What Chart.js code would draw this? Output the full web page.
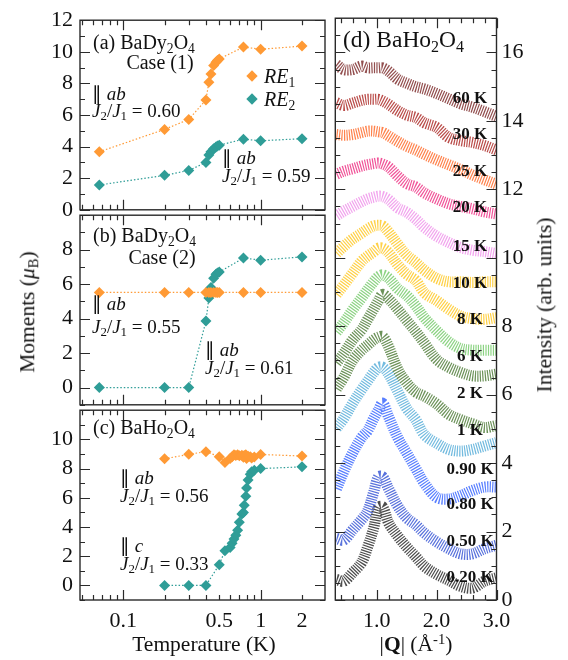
<!DOCTYPE html>
<html>
<head>
<meta charset="utf-8">
<script src="https://cdn.jsdelivr.net/npm/chart.js@4.4.0/dist/chart.umd.min.js"></script>
<style>
body{margin:0;background:#fff;width:568px;height:660px;position:relative;overflow:hidden;font-family:"Liberation Serif",serif;color:#111;}
canvas{position:absolute;}
.t{position:absolute;white-space:nowrap;line-height:1;font-size:19px;}
.t sub{font-size:0.68em;vertical-align:-0.3em;line-height:0;}
.t sup{font-size:0.68em;vertical-align:0.5em;line-height:0;}
.big{font-size:20px;}
.ttl{font-size:21.5px;}
.hd{font-size:23.5px;}
.lab{font-weight:bold;font-size:17px;}
.dia{position:absolute;width:8px;height:8px;transform:translate(-50%,-50%) rotate(45deg);}
</style>
</head>
<body>
<canvas id="pa" width="340" height="230" style="left:0;top:0;width:340px;height:230px"></canvas>
<canvas id="pb" width="340" height="230" style="left:0;top:195px;width:340px;height:230px"></canvas>
<canvas id="pc" width="340" height="270" style="left:0;top:390px;width:340px;height:270px"></canvas>
<canvas id="pd" width="238" height="660" style="left:330px;top:0;width:238px;height:660px"></canvas>
<div id="notes"></div>
<script>
"use strict"

const orange = '#ff9a35';
const teal = '#2f9d97';

//temperatures (K) for panels (a) and (b)
const tAB = [0.067, 0.2, 0.3, 0.4, 0.42, 0.435, 0.455, 0.473, 0.485, 0.5, 0.75, 1.0, 2.0];
const aRE1 = [3.67, 5.09, 5.72, 6.95, 8.07, 8.6, 9.13, 9.34, 9.45, 9.55, 10.3, 10.16, 10.36];
const aRE2 = [1.57, 2.18, 2.49, 3.0, 3.47, 3.67, 3.86, 3.98, 4.04, 4.09, 4.47, 4.37, 4.5];
const bRE1 = [5.52, 5.52, 5.52, 5.52, 5.52, 5.52, 5.52, 5.52, 5.52, 5.52, 5.52, 5.52, 5.52];
const bRE2 = [0, 0, 0, 3.86, 5.2, 5.81, 6.34, 6.57, 6.65, 6.7, 7.52, 7.39, 7.58];

//temperatures (K) for panel (c)
const tC = [0.2, 0.3, 0.4, 0.5, 0.55, 0.6, 0.62, 0.64, 0.66, 0.68, 0.7, 0.73, 0.75, 0.76, 0.78, 0.79, 0.81, 0.84, 0.86, 0.9, 1.0, 2.0];
const cRE1 = [8.67, 8.98, 9.16, 8.82, 8.42, 8.7, 8.82, 8.95, 8.9, 8.95, 8.88, 8.92, 8.78, 8.9, 8.95, 8.7, 8.85, 8.82, 8.72, 8.8, 8.97, 8.86];
const cRE2 = [0, 0, 0, 1.42, 2.38, 2.6, 2.89, 3.18, 3.44, 3.78, 4.33, 4.89, 5.0, 5.49, 6.11, 6.67, 7.22, 7.62, 7.78, 7.89, 8.0, 8.12];

//tick marks / labels of the temperature axis
const tempTicks = [0.05, 0.06, 0.07, 0.08, 0.09, 0.1, 0.2, 0.3, 0.4, 0.5, 0.6, 0.7, 0.8, 0.9, 1, 2];
const tempLabels = [0.1, 0.5, 1, 2];
const tempMajor = [0.1, 1];

//panel (d): |Q| grid and intensity of each temperature (offset curves)
const qGrid = [0.33, 0.45, 0.6, 0.75, 0.85, 0.95, 1.03, 1.1, 1.2, 1.35, 1.5, 1.65, 1.8, 2.0, 2.2, 2.4, 2.6, 2.8, 3.0];
const i60K = [15.65, 15.5, 15.5, 15.6, 15.55, 15.55, 15.55, 15.55, 15.45, 15.22, 15.1, 15.0, 14.93, 14.8, 14.65, 14.5, 14.4, 14.27, 14.13];
const i30K = [14.53, 14.45, 14.52, 14.6, 14.63, 14.63, 14.63, 14.58, 14.48, 14.3, 14.17, 14.1, 13.94, 13.81, 13.52, 13.42, 13.37, 13.28, 13.15];
const i25K = [13.6, 13.58, 13.6, 13.66, 13.7, 13.7, 13.68, 13.66, 13.56, 13.4, 13.26, 13.15, 13.02, 12.86, 12.72, 12.58, 12.42, 12.28, 12.15];
const i20K = [12.44, 12.53, 12.6, 12.68, 12.72, 12.75, 12.77, 12.74, 12.65, 12.39, 12.17, 12.07, 11.89, 11.72, 11.58, 11.5, 11.43, 11.34, 11.28];
const i15K = [11.23, 11.36, 11.5, 11.64, 11.72, 11.77, 11.8, 11.79, 11.7, 11.46, 11.33, 11.13, 10.88, 10.63, 10.45, 10.3, 10.22, 10.18, 10.12];
const i10K = [10.13, 10.33, 10.55, 10.72, 10.84, 10.93, 10.95, 10.93, 10.75, 10.4, 10.08, 9.87, 9.63, 9.4, 9.3, 9.3, 9.28, 9.3, 9.3];
const i8K = [8.93, 9.2, 9.55, 9.9, 10.05, 10.17, 10.28, 10.28, 10.15, 9.8, 9.52, 9.34, 8.97, 8.75, 8.5, 8.3, 8.22, 8.2, 8.25];
const i6K = [7.83, 8.1, 8.48, 8.83, 9.07, 9.3, 9.45, 9.5, 9.4, 9.1, 8.9, 8.6, 8.24, 7.87, 7.55, 7.35, 7.3, 7.3, 7.3];
const i2K = [6.93, 7.2, 7.6, 7.9, 8.2, 8.5, 8.75, 8.93, 8.8, 8.5, 8.17, 7.85, 7.5, 7.03, 6.8, 6.65, 6.55, 6.55, 6.6];
const i1K = [6.17, 6.5, 7.0, 7.3, 7.45, 7.6, 7.68, 7.7, 7.4, 6.75, 6.35, 6.08, 5.95, 5.73, 5.43, 5.27, 5.15, 5.04, 5.1];
const i090K = [5.02, 5.3, 5.75, 6.15, 6.4, 6.65, 6.8, 6.8, 6.6, 6.1, 5.6, 5.27, 4.82, 4.58, 4.4, 4.35, 4.4, 4.5, 4.6];
const i080K = [3.25, 3.75, 4.3, 4.75, 4.95, 5.3, 5.55, 5.75, 5.35, 4.75, 4.3, 3.85, 3.4, 3.0, 2.95, 3.05, 3.2, 3.3, 3.3];
const i050K = [1.8, 1.75, 2.05, 2.35, 2.6, 3.15, 3.6, 3.6, 3.25, 2.75, 2.4, 2.2, 1.95, 1.7, 1.5, 1.35, 1.35, 1.5, 1.6];
const i020K = [0.6, 0.55, 0.8, 1.1, 1.55, 2.1, 2.7, 2.72, 2.25, 1.87, 1.55, 1.27, 0.98, 0.75, 0.58, 0.4, 0.35, 0.55, 0.65];

const tempNames = ['60 K', '30 K', '25 K', '20 K', '15 K', '10 K', '8 K', '6 K', '2 K', '1 K', '0.90 K', '0.80 K', '0.50 K', '0.20 K'];
const curves = [i60K, i30K, i25K, i20K, i15K, i10K, i8K, i6K, i2K, i1K, i090K, i080K, i050K, i020K];
const curveColors = ['#6e1414', '#a3120f', '#ff5a12', '#ec1c78', '#ee86e8', '#ffc20a', '#ffc20a', '#66c45a', '#3c6e22', '#3c6e22', '#45a5d5', '#2255ff', '#2244d0', '#111111'];

const qTicks = [0.4, 0.6, 0.8, 1.0, 1.2, 1.4, 1.6, 1.8, 2.0, 2.2, 2.4, 2.6, 2.8, 3.0];
const qLabels = [1, 2, 3];

/*---------------------------------*/

//ram med inåtriktade tickmarkeringar på alla sidor
const framePlugin = {
    id: 'frame',
    afterDraw(chart, args, opts) {
        const ctx = chart.ctx;
        const ca = chart.chartArea;
        const xs = chart.scales.x;
        const ys = chart.scales.y;
        ctx.save();
        ctx.strokeStyle = '#2a2a2a';
        ctx.lineWidth = 1.2;
        ctx.beginPath();
        opts.xTicks.forEach(v => {
            const px = Math.round(xs.getPixelForValue(v)) + 0.5;
            const len = opts.xMajor.some(m => Math.abs(m - v) < 1e-9) ? opts.longLen : opts.shortLen;
            ctx.moveTo(px, ca.bottom); ctx.lineTo(px, ca.bottom - len);
            ctx.moveTo(px, ca.top); ctx.lineTo(px, ca.top + len);
        });
        for (let v = opts.yFrom; v <= ys.max + 1e-9; v += opts.yStep) {
            const py = Math.round(ys.getPixelForValue(v)) + 0.5;
            const major = Math.abs(v / opts.yMajor - Math.round(v / opts.yMajor)) < 1e-6;
            const len = major ? opts.longLen : opts.shortLen;
            ctx.moveTo(ca.left, py); ctx.lineTo(ca.left + len, py);
            ctx.moveTo(ca.right, py); ctx.lineTo(ca.right - len, py);
        }
        ctx.stroke();
        ctx.lineWidth = 1.4;
        ctx.strokeRect(ca.left, ca.top, ca.right - ca.left, ca.bottom - ca.top);
        ctx.restore();
    }
};

const tickFont = {family: 'Liberation Serif', size: 22};

function momentSet(t, vals, color) {
    return {
        data: t.map((x, i) => ({x: x, y: vals[i]})),
        borderColor: color,
        backgroundColor: color,
        borderWidth: 1.2,
        borderDash: [1.5, 2],
        pointStyle: 'rectRot',
        pointRadius: 5.5,
        pointBorderWidth: 0,
        showLine: true
    };
}

//skapa en av de tre vänstra panelerna
function leftPanel(id, sets, yMin, yMax, yLabels, showX, padding) {
    new Chart(document.getElementById(id), {
        type: 'scatter',
        data: {datasets: sets},
        plugins: [framePlugin],
        options: {
            responsive: false,
            animation: false,
            devicePixelRatio: 1,
            layout: {padding: padding},
            plugins: {
                legend: {display: false},
                tooltip: {enabled: false},
                frame: {xTicks: tempTicks, xMajor: tempMajor, yFrom: yMin, yStep: 1, yMajor: 2, longLen: 10, shortLen: 5}
            },
            scales: {
                x: {
                    type: 'logarithmic',
                    min: 0.0485,
                    max: 2.94,
                    display: showX,
                    grid: {display: false, drawTicks: false},
                    border: {display: false},
                    afterBuildTicks: s => { s.ticks = tempTicks.map(v => ({value: v})); },
                    afterFit: s => { s.height = showX ? 60 : 0; },
                    ticks: {
                        autoSkip: false, maxRotation: 0, padding: 8, font: tickFont, color: '#111',
                        callback: v => tempLabels.some(l => Math.abs(l - v) < 1e-9) ? String(v) : ''
                    }
                },
                y: {
                    min: yMin,
                    max: yMax,
                    grid: {display: false, drawTicks: false},
                    border: {display: false},
                    afterBuildTicks: s => { s.ticks = yLabels.map(v => ({value: v})); },
                    afterFit: s => { s.width = 80; },
                    ticks: {padding: 7, font: tickFont, color: '#111', callback: v => String(v)}
                }
            }
        }
    });
}

leftPanel('pa', [momentSet(tAB, aRE1, orange), momentSet(tAB, aRE2, teal)],
    0, 12, [0, 2, 4, 6, 8, 10, 12], false, {left: 0, top: 15, right: 15, bottom: 19});
leftPanel('pb', [momentSet(tAB, bRE1, orange), momentSet(tAB, bRE2, teal)],
    -1, 10, [0, 2, 4, 6, 8], false, {left: 0, top: 16, right: 15, bottom: 20});
leftPanel('pc', [momentSet(tC, cRE1, orange), momentSet(tC, cRE2, teal)],
    -1, 12, [0, 2, 4, 6, 8, 10], true, {left: 0, top: 15, right: 15, bottom: 0});

/*---------------------------------*/

//panel (d), förskjutna intensitetskurvor
new Chart(document.getElementById('pd'), {
    type: 'line',
    data: {
        datasets: curves.map((c, k) => ({
            label: tempNames[k],
            data: qGrid.map((q, i) => ({x: q, y: c[i]})),
            borderColor: curveColors[k] + 'c0',
            borderWidth: 11,
            borderDash: [1.2, 1.3],
            tension: 0.35,
            pointRadius: 0,
            fill: false
        }))
    },
    plugins: [framePlugin],
    options: {
        responsive: false,
        animation: false,
        devicePixelRatio: 1,
        layout: {padding: {left: 5.3, top: 17, right: 0, bottom: 0}},
        plugins: {
            legend: {display: false},
            tooltip: {enabled: false},
            frame: {xTicks: qTicks, xMajor: qLabels, yFrom: 0, yStep: 0.5, yMajor: 2, longLen: 10, shortLen: 5}
        },
        scales: {
            x: {
                type: 'linear',
                min: 0.31,
                max: 3.0,
                grid: {display: false, drawTicks: false},
                border: {display: false},
                afterBuildTicks: s => { s.ticks = qLabels.map(v => ({value: v})); },
                afterFit: s => { s.height = 60; },
                ticks: {autoSkip: false, maxRotation: 0, padding: 8, font: tickFont, color: '#111', callback: v => v.toFixed(1)}
            },
            y: {
                position: 'right',
                min: 0,
                max: 17,
                grid: {display: false, drawTicks: false},
                border: {display: false},
                afterBuildTicks: s => { s.ticks = [0, 2, 4, 6, 8, 10, 12, 14, 16].map(v => ({value: v})); },
                afterFit: s => { s.width = 71.5; },
                ticks: {padding: 5, font: tickFont, color: '#111', callback: v => String(v)}
            }
        }
    }
});

/*---------------------------------*/

//texter
const notes = document.getElementById('notes');

function note(html, x, y, cls, anchor) {
    const el = document.createElement('div');
    el.className = 't ' + (cls || '');
    el.innerHTML = html;
    el.style.left = x + 'px';
    el.style.top = y + 'px';
    el.style.transform = anchor === 'c' ? 'translate(-50%,-50%)' :
        anchor === 'r' ? 'translate(-50%,-50%) rotate(-90deg)' : 'translateY(-50%)';
    notes.appendChild(el);
}

function diamond(x, y, color) {
    const el = document.createElement('div');
    el.className = 'dia';
    el.style.left = x + 'px';
    el.style.top = y + 'px';
    el.style.background = color;
    notes.appendChild(el);
}

const ratio = v => '<i>J</i><sub>2</sub>/<i>J</i><sub>1</sub> = ' + v;

note('(a) BaDy<sub>2</sub>O<sub>4</sub>', 93, 42, 'big');
note('Case (1)', 160, 62, 'big', 'c');
note('&#8741; <i>ab</i>', 92, 93);
note(ratio('0.60'), 92, 110);
note('&#8741; <i>ab</i>', 222, 157);
note(ratio('0.59'), 222, 175);
diamond(252, 76, orange);
diamond(252, 99, teal);
note('<i>RE</i><sub>1</sub>', 264, 76, 'big');
note('<i>RE</i><sub>2</sub>', 264, 99, 'big');

note('(b) BaDy<sub>2</sub>O<sub>4</sub>', 93, 235, 'big');
note('Case (2)', 162, 257, 'big', 'c');
note('&#8741; <i>ab</i>', 92, 303);
note(ratio('0.55'), 92, 326);
note('&#8741; <i>ab</i>', 205, 349);
note(ratio('0.61'), 205, 367);

note('(c) BaHo<sub>2</sub>O<sub>4</sub>', 93, 427, 'big');
note('&#8741; <i>ab</i>', 120, 477);
note(ratio('0.56'), 120, 495);
note('&#8741; <i>c</i>', 120, 545);
note(ratio('0.33'), 120, 563);

note('(d) BaHo<sub>2</sub>O<sub>4</sub>', 343, 40, 'hd');

const labelY = [97, 133, 170, 206, 245, 282, 318, 355, 392, 429, 468, 503, 540, 576];
tempNames.forEach((n, k) => note(n, 470, labelY[k], 'lab', 'c'));

note('Moments (<i>&mu;</i><sub>B</sub>)', 28, 312, 'ttl', 'r');
note('Temperature (K)', 204, 645, 'ttl', 'c');
note('|<b>Q</b>| (&Aring;<sup>-1</sup>)', 416, 645, 'ttl', 'c');
note('Intensity (arb. units)', 545, 305, 'ttl', 'r');
</script>
</body>
</html>
